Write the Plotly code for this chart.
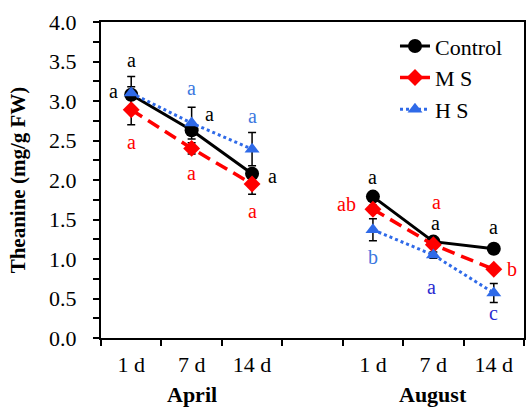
import plotly.graph_objects as go

# ---- data ----
days = ["1 d", "7 d", "14 d"]
months = ["April", "August"]
series = ["Control", "MS", "HS"]
legend_names = ["Control", "M S", "H S"]

control_april = [3.08, 2.63, 2.08]
control_august = [1.79, 1.22, 1.13]
ms_april = [2.89, 2.40, 1.95]
ms_august = [1.63, 1.18, 0.87]
hs_april = [3.10, 2.72, 2.39]
hs_august = [1.37, 1.05, 0.57]

control_err_april = [0.23, 0.05, 0.05]
control_err_august = [0.05, 0.04, 0.03]
ms_err_april = [0.19, 0.07, 0.13]
ms_err_august = [0.05, 0.04, 0.03]
hs_err_april = [0.08, 0.20, 0.21]
hs_err_august = [0.14, 0.04, 0.12]

control_letters_april = ["a", "a", "a"]
control_letters_august = ["a", "a", "a"]
ms_letters_april = ["a", "a", "a"]
ms_letters_august = ["ab", "a", "b"]
hs_letters_april = ["a", "a", "a"]
hs_letters_august = ["b", "a", "c"]

values = {
    "Control": (control_april, control_august),
    "MS": (ms_april, ms_august),
    "HS": (hs_april, hs_august),
}
errors = {
    "Control": (control_err_april, control_err_august),
    "MS": (ms_err_april, ms_err_august),
    "HS": (hs_err_april, hs_err_august),
}
letters = {
    "Control": (control_letters_april, control_letters_august),
    "MS": (ms_letters_april, ms_letters_august),
    "HS": (hs_letters_april, hs_letters_august),
}

# ---- styles ----
FONT = "Liberation Serif"
styles = {
    "Control": dict(color="#000000", dash="solid", width=3, symbol="circle", size=14),
    "MS": dict(color="#ff0000", dash="13px,7px", width=3.5, symbol="diamond", size=13),
    "HS": dict(color="#2f6ae8", dash="dot", width=3, symbol="triangle-up", size=13),
}
# letter label placement (pixel offsets from point) and colours
letter_style = {
    ("Control", 0, 0): (0, 35, "#000000"),
    ("HS", 0, 0): (-18, 2, "#000000"),
    ("MS", 0, 0): (0, -32, "#ff0000"),
    ("HS", 0, 1): (0, 35, "#3c78e0"),
    ("Control", 0, 1): (18, 16, "#000000"),
    ("MS", 0, 1): (0, -25, "#ff0000"),
    ("HS", 0, 2): (0, 33, "#3c78e0"),
    ("Control", 0, 2): (20, -2, "#000000"),
    ("MS", 0, 2): (0, -27, "#ff0000"),
    ("Control", 1, 0): (0, 20, "#000000"),
    ("MS", 1, 0): (-26, 5, "#ff0000"),
    ("HS", 1, 0): (0, -27, "#3c78e0"),
    ("MS", 1, 1): (3, 43, "#ff0000"),
    ("Control", 1, 1): (2, 19, "#000000"),
    ("HS", 1, 1): (-2, -32, "#2a2ad0"),
    ("Control", 1, 2): (0, 22, "#000000"),
    ("MS", 1, 2): (18, 0, "#ff0000"),
    ("HS", 1, 2): (0, -20, "#2a2ad0"),
}

n_slots = len(months) * len(days) + len(months) - 1
def xpos(mi, di):
    return mi * (len(days) + 1) + di

fig = go.Figure()
for s, name in zip(series, legend_names):
    st = styles[s]
    xs, ys, es = [], [], []
    for mi in range(len(months)):
        for di in range(len(days)):
            xs.append(xpos(mi, di))
            ys.append(values[s][mi][di])
            es.append(errors[s][mi][di])
        if mi < len(months) - 1:
            xs.append(xpos(mi, len(days)))
            ys.append(None)
            es.append(None)
    fig.add_trace(go.Scatter(
        x=xs, y=ys, name=name, mode="lines+markers", legendgroup=s,
        line=dict(color=st["color"], dash=st["dash"], width=st["width"]),
        marker=dict(symbol=st["symbol"], size=st["size"], color=st["color"]),
        error_y=dict(type="data", array=es, visible=True, color="#000000",
                     thickness=1.5, width=4),
        connectgaps=False,
    ))

for s in series:
    for mi in range(len(months)):
        for di in range(len(days)):
            dx, dy, col = letter_style[(s, mi, di)]
            fig.add_annotation(
                x=xpos(mi, di), y=values[s][mi][di], text=letters[s][mi][di],
                showarrow=False, xshift=dx, yshift=dy,
                font=dict(family=FONT, size=20, color=col),
            )

for mi, m in enumerate(months):
    fig.add_annotation(
        x=xpos(mi, 1), y=0, xref="x", yref="paper", text="<b>%s</b>" % m,
        showarrow=False, yshift=-71, font=dict(family=FONT, size=22, color="#000000"),
    )

tickvals = [xpos(mi, di) for mi in range(len(months)) for di in range(len(days))]
ticktext = [d for _ in months for d in days]
boundaries = [i - 0.5 for i in range(n_slots + 1)]

fig.update_layout(
    width=528, height=408,
    margin=dict(l=101, r=2, t=22, b=70),
    paper_bgcolor="white", plot_bgcolor="white",
    font=dict(family=FONT, size=22, color="#000000"),
    showlegend=True,
    legend=dict(x=0.695, y=0.99, xanchor="left", yanchor="top",
                bgcolor="rgba(0,0,0,0)", font=dict(family=FONT, size=22, color="#000000"),
                tracegroupgap=0),
    xaxis=dict(
        range=[-0.5, n_slots - 0.5], showgrid=False, zeroline=False,
        showline=True, linecolor="#000000", linewidth=2, mirror=True,
        tickmode="array", tickvals=tickvals, ticktext=ticktext,
        ticks="outside", ticklen=0, tickcolor="#000000",
        ticklabelstandoff=6,
        minor=dict(tickmode="array", tickvals=boundaries, ticks="outside",
                   ticklen=6, tickwidth=2, tickcolor="#000000", showgrid=False),
        tickfont=dict(family=FONT, size=22),
    ),
    yaxis=dict(
        range=[0, 4], dtick=0.5, tickformat=".1f", showgrid=False, zeroline=False,
        showline=True, linecolor="#000000", linewidth=2, mirror=True,
        ticks="outside", ticklen=6, tickwidth=2, tickcolor="#000000",
        ticklabelstandoff=12,
        minor=dict(dtick=0.25, ticks="outside", ticklen=6, tickwidth=2,
                   tickcolor="#000000", showgrid=False),
        tickfont=dict(family=FONT, size=22),
        title=dict(text="<b>Theanine (mg/g FW)</b>", font=dict(family=FONT, size=21),
                   standoff=18),
    ),
)

fig.write_html("out.html")
